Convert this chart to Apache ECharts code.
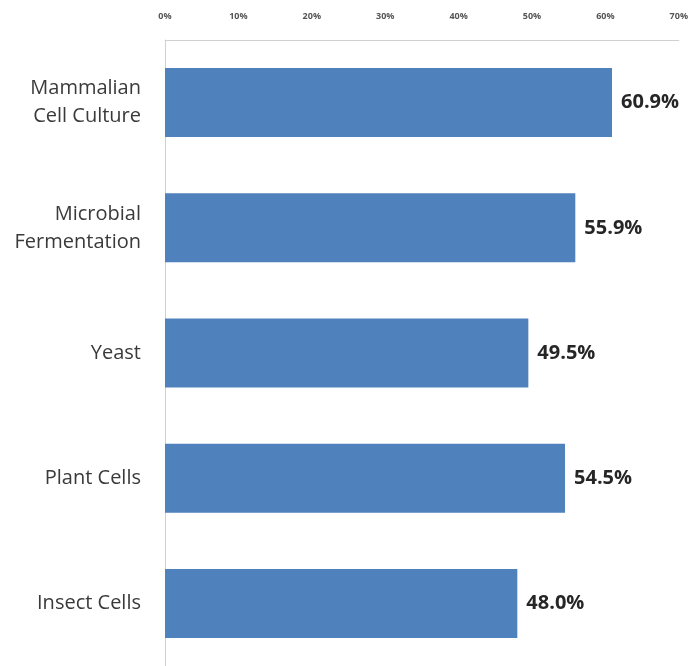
<!DOCTYPE html>
<html>
<head>
<meta charset="utf-8">
<script src="https://cdn.jsdelivr.net/npm/echarts@6/dist/echarts.min.js"></script>
<style>
  html, body { margin: 0; padding: 0; background: #fff; }
  #chart { width: 691px; height: 666px; }
</style>
</head>
<body>
<div id="chart"></div>
<script>
// Data (top to bottom as shown)
const categories = ['Mammalian\nCell Culture', 'Microbial\nFermentation', 'Yeast', 'Plant Cells', 'Insect Cells'];
const shares = [60.9, 55.9, 49.5, 54.5, 48.0];
const tickLabels = ['0%', '10%', '20%', '30%', '40%', '50%', '60%', '70%'];

const chart = echarts.init(document.getElementById('chart'));

chart.setOption({
  animation: false,
  textStyle: { fontFamily: 'Open Sans' },
  grid: {
    left: 165,
    right: 12,
    top: 40,
    bottom: -4
  },
  xAxis: {
    type: 'value',
    position: 'top',
    min: 0,
    max: 70,
    interval: 10,
    axisLine: { show: true, lineStyle: { color: '#d0d0d0', width: 1 } },
    axisTick: { show: false },
    splitLine: { show: false },
    axisLabel: {
      margin: 19,
      fontSize: 9,
      fontWeight: 'bold',
      color: '#555',
      formatter: (v) => tickLabels[Math.round(v / 10)]
    }
  },
  yAxis: {
    type: 'category',
    inverse: true,
    data: categories,
    axisLine: { show: true, lineStyle: { color: '#d0d0d0', width: 1 } },
    axisTick: { show: false },
    axisLabel: {
      margin: 24,
      fontSize: 20,
      lineHeight: 28,
      color: '#3a3a3a',
      align: 'right'
    }
  },
  series: [
    {
      type: 'bar',
      data: shares,
      barWidth: 69,
      itemStyle: { color: '#4F81BD' },
      label: {
        show: true,
        position: 'right',
        distance: 9,
        fontSize: 20,
        fontWeight: 'bold',
        color: '#262626',
        formatter: (p) => p.value.toFixed(1) + '%'
      }
    }
  ]
});
</script>
</body>
</html>
